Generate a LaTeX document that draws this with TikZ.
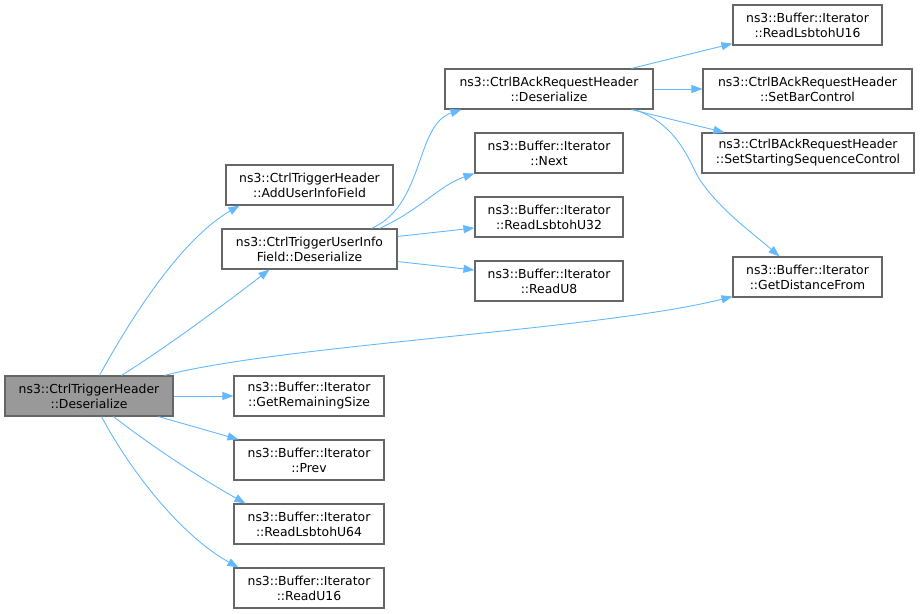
\documentclass[tikz,border=0pt]{standalone}
\usepackage{fontspec}
\setmainfont{DejaVu Sans}
\usetikzlibrary{arrows.meta,calc}
\definecolor{edgec}{HTML}{63B8FF}
\definecolor{boxc}{HTML}{666666}
\definecolor{rootc}{HTML}{999999}
\tikzset{
  fn/.style={draw=boxc,line width=1.1pt,fill=white,inner sep=0pt,align=center,
    font=\fontsize{12.4}{15}\selectfont,minimum height=40pt},
  rootfn/.style={fn,fill=rootc},
  call/.style={draw=edgec,line width=0.9pt,-{Triangle[length=11pt,width=8pt]}}
}
\begin{document}
\begin{tikzpicture}[x=1pt,y=-1pt]
\useasboundingbox (0,0) rectangle (920,613);
\node[rootfn,minimum width=168pt] (root) at (89,396) {ns3::CtrlTriggerHeader\\::Deserialize};
\node[fn,minimum width=167pt] (add) at (309.5,185) {ns3::CtrlTriggerHeader\\::AddUserInfoField};
\node[fn,minimum width=175pt] (uif) at (309.5,249) {ns3::CtrlTriggerUserInfo\\Field::Deserialize};
\node[fn,minimum width=150pt] (grs) at (309,396) {ns3::Buffer::Iterator\\::GetRemainingSize};
\node[fn,minimum width=150pt] (prev) at (309,460) {ns3::Buffer::Iterator\\::Prev};
\node[fn,minimum width=150pt] (u64) at (309,524) {ns3::Buffer::Iterator\\::ReadLsbtohU64};
\node[fn,minimum width=150pt] (u16) at (309,588) {ns3::Buffer::Iterator\\::ReadU16};
\node[fn,minimum width=208pt] (cbd) at (549,89) {ns3::CtrlBAckRequestHeader\\::Deserialize};
\node[fn,minimum width=148pt] (next) at (549,153) {ns3::Buffer::Iterator\\::Next};
\node[fn,minimum width=148pt] (u32) at (549,217) {ns3::Buffer::Iterator\\::ReadLsbtohU32};
\node[fn,minimum width=148pt] (u8) at (549,281) {ns3::Buffer::Iterator\\::ReadU8};
\node[fn,minimum width=149pt] (lsb16) at (807.5,25) {ns3::Buffer::Iterator\\::ReadLsbtohU16};
\node[fn,minimum width=209pt] (sbc) at (807.5,89) {ns3::CtrlBAckRequestHeader\\::SetBarControl};
\node[fn,minimum width=212pt] (ssc) at (808,153) {ns3::CtrlBAckRequestHeader\\::SetStartingSequenceControl};
\node[fn,minimum width=149pt] (gdf) at (807.5,277) {ns3::Buffer::Iterator\\::GetDistanceFrom};
% edges from root
\draw[call] ($(root.north west)+(95,0)$) .. controls (130,320) and (180,240) .. ($(add.south west)+(14,0)$);
\draw[call] ($(root.north west)+(117,0)$) .. controls (170,345) and (230,300) .. ($(uif.south west)+(48,0)$);
\draw[call] ($(root.north west)+(160,0)$) .. controls (280,345) and (600,330) .. ($(gdf.south west)+(0,-1)$);
\draw[call] (root.east) -- (grs.west);
\draw[call] ($(root.south west)+(154,0)$) -- ($(prev.north west)+(5,0)$);
\draw[call] ($(root.south west)+(109,0)$) .. controls (150,445) and (200,478) .. ($(u64.north west)+(12,0)$);
\draw[call] ($(root.south west)+(97,0)$) .. controls (130,470) and (180,535) .. ($(u16.north west)+(5,0)$);
% edges from uif
\draw[call] ($(uif.north west)+(150,0)$) .. controls (425,205) and (415,125) .. ($(cbd.south west)+(17,0)$);
\draw[call] ($(uif.north west)+(158,0)$) .. controls (420,210) and (440,185) .. (next.south west);
\draw[call] ($(uif.north east)+(0,8)$) -- ($(u32.west)+(0,11)$);
\draw[call] ($(uif.south east)+(0,-8)$) -- ($(u8.west)+(0,-11)$);
% edges from cbd
\draw[call] ($(cbd.north west)+(187,0)$) -- ($(lsb16.south west)+(0,-2)$);
\draw[call] (cbd.east) -- (sbc.west);
\draw[call] ($(cbd.south west)+(187,0)$) -- ($(ssc.north west)+(23,0)$);
\draw[call] ($(cbd.south west)+(190,0)$) .. controls (680,125) and (690,165) .. (700,180) .. controls (720,210) and (755,235) .. ($(gdf.north west)+(47,0)$);
\end{tikzpicture}
\end{document}
